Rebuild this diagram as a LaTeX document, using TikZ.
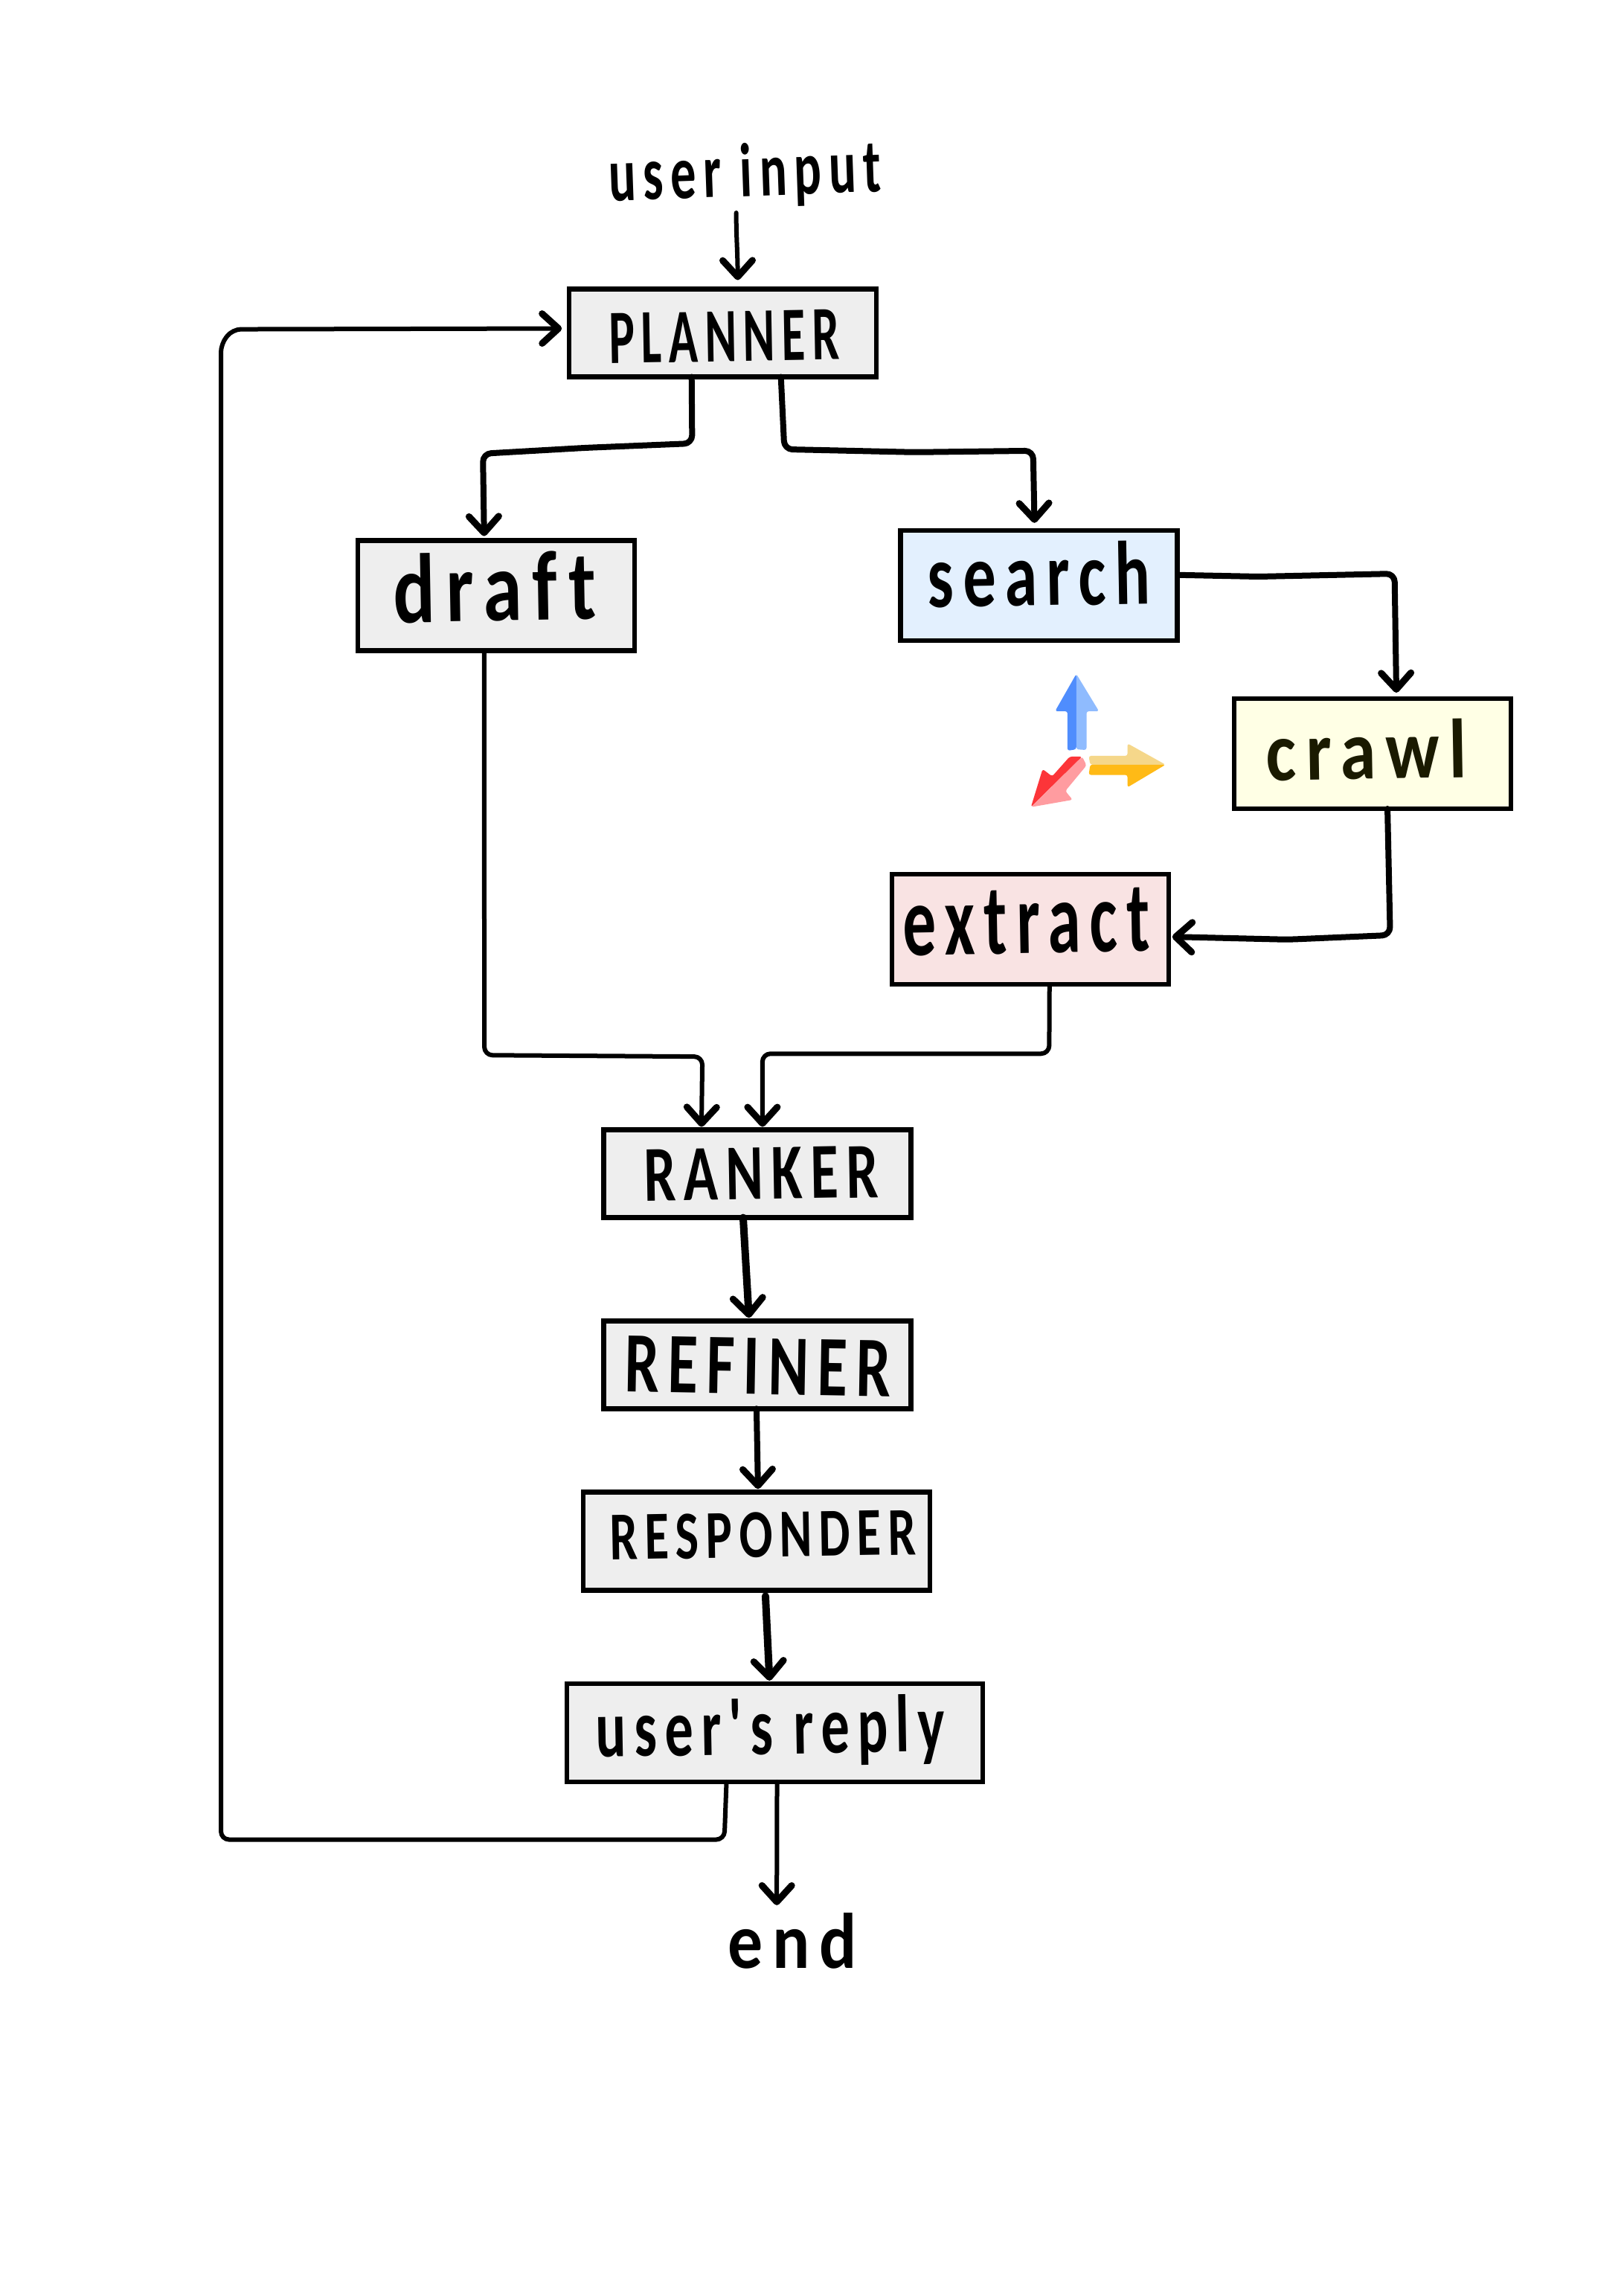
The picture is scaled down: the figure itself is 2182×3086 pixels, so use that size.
\documentclass[tikz,border=0pt]{standalone}
\usepackage{graphicx}
\usepackage{fontspec}
\usetikzlibrary{arrows.meta}
\newfontfamily\hand[LetterSpace=14,Ligatures=NoCommon]{Carlito}
\newcommand{\hw}[3]{\resizebox*{#1pt}{#2pt}{\hand\bfseries #3}}
\definecolor{gbox}{HTML}{EEEEEE}
\definecolor{bbox}{HTML}{E3F0FE}
\definecolor{ybox}{HTML}{FFFFE5}
\definecolor{pbox}{HTML}{F9E3E3}
\definecolor{bluea}{HTML}{4F8DFD}
\definecolor{blueb}{HTML}{8FBBFE}
\definecolor{yela}{HTML}{F5D78A}
\definecolor{yelb}{HTML}{FFBA16}
\definecolor{reda}{HTML}{FC3539}
\definecolor{redb}{HTML}{FF9CA0}
\definecolor{olive}{HTML}{1A1A00}
\tikzset{
  boxn/.style={draw=black,line width=6.5pt,rectangle,inner sep=0pt,outer sep=0pt},
  every label/.style={inner sep=0pt,outer sep=0pt},
  flow/.style={draw=black,line width=8pt,rounded corners=11pt,line cap=round,line join=round,
    -{Straight Barb[length=22pt,width=40pt,line width=9pt,round]},shorten >=2pt},
  thinflow/.style={flow,line width=6pt},
  thickflow/.style={flow,line width=10pt},
  txt/.style={inner sep=0pt,outer sep=0pt},
  icon/.style={rounded corners=3pt}
}
\begin{document}
\begin{tikzpicture}[x=0.9835pt,y=-0.9835pt]
\useasboundingbox[fill=white] (0pt,0pt) rectangle (2182pt,-3086pt);

% boxes
\node[boxn,fill=gbox,minimum width=413pt,minimum height=118pt,
  label={[name=plannerT,xshift=2pt,yshift=-5pt,rotate=1]center:\hw{310}{67}{PLANNER}}] (planner) at (988,455) {};
\node[boxn,fill=gbox,minimum width=372pt,minimum height=148pt,
  label={[name=draftT,xshift=-2pt,yshift=12pt,rotate=1]center:\hw{272}{94}{draft}}] (draft) at (678,814) {};
\node[boxn,fill=bbox,minimum width=372pt,minimum height=148pt,
  label={[name=searchT,yshift=15pt,rotate=1]center:\hw{299}{86}{search}}] (search) at (1420,800) {};
\node[boxn,fill=ybox,minimum width=372pt,minimum height=148pt,
  label={[name=crawlT,xshift=-8pt,yshift=5pt,rotate=1]center:\hw{270}{80}{\color{olive}crawl}}] (crawl) at (1876,1030) {};
\node[boxn,fill=pbox,minimum width=372pt,minimum height=148pt,
  label={[name=extractT,xshift=-5pt,yshift=10pt,rotate=1]center:\hw{332}{86}{extract}}] (extract) at (1408,1270) {};
\node[boxn,fill=gbox,minimum width=413pt,minimum height=118pt,
  label={[name=rankerT,xshift=5pt,rotate=1]center:\hw{315}{69}{RANKER}}] (ranker) at (1035,1604) {};
\node[boxn,fill=gbox,minimum width=413pt,minimum height=118pt,
  label={[name=refinerT,xshift=1pt,yshift=-2pt,rotate=-1]center:\hw{357}{75}{REFINER}}] (refiner) at (1035,1865) {};
\node[boxn,fill=gbox,minimum width=466pt,minimum height=132pt,
  label={[name=responderT,xshift=9pt,yshift=8pt,rotate=1]center:\hw{411}{61}{RESPONDER}}] (responder) at (1034,2106) {};
\node[boxn,fill=gbox,minimum width=559pt,minimum height=132pt,
  label={[name=replyT,xshift=-6pt,yshift=1pt,rotate=1]center:\hw{469}{94}{user's reply}}] (reply) at (1059,2368) {};

% free texts
\node[txt,rotate=2] (input) at (1018,240) {\hw{366}{88}{user input}};
\node[txt] (endn) at (1083,2652) {\hw{174}{75}{end}};

% connectors
\draw[thinflow,rounded corners=0pt] ([xshift=18pt,yshift=-6pt]planner.north |- input.south) .. controls (1006,320) and (1008,340) .. ([xshift=20pt,yshift=10pt]planner.north);
\draw[flow] ([xshift=-42pt]planner.south) -- (946,606) -- (800,612) -- (660,620) -- ([xshift=-16pt,yshift=4pt]draft.north);
\draw[flow] ([xshift=78pt]planner.south) -- (1072,614) -- (1250,618) -- (1412,616) -- ([xshift=-6pt,yshift=8pt]search.north);
\draw[flow] ([xshift=2pt,yshift=14pt]search.east) -- (1720,788) -- (1906,784) -- ([xshift=32pt,yshift=6pt]crawl.north);
\draw[flow] ([xshift=20pt]crawl.south) -- (1900,1278) -- (1760,1284) -- ([yshift=-10pt,xshift=3pt]extract.east);
\draw[thinflow] ([xshift=-16pt]draft.south) -- (662,1442) -- (960,1444) -- ([xshift=-75pt,yshift=2pt]ranker.north);
\draw[thinflow] ([xshift=26pt]extract.south) -- (1434,1440) -- (1042,1440) -- ([xshift=7pt,yshift=2pt]ranker.north);
\draw[thickflow] ([xshift=-19pt]ranker.south) -- ([xshift=-11pt,yshift=2pt]refiner.north);
\draw[flow] ([xshift=-1pt]refiner.south) -- ([xshift=2pt,yshift=2pt]responder.north);
\draw[thickflow] ([xshift=12pt,yshift=-8pt]responder.south) -- ([xshift=-7pt,yshift=2pt]reply.north);
\draw[thinflow] ([xshift=-65pt]reply.south) -- (990,2514) -- (302,2514) -- (302,470) -- (318,450) -- ([xshift=-8pt,yshift=6pt]planner.west);
\draw[thinflow] ([xshift=3pt]reply.south) -- ([xshift=-21pt,yshift=8pt]endn.north);

% axis icon
\fill[icon,bluea] (1471,921) -- (1442,972) -- (1459,972) -- (1459,1026) -- (1471,1024) -- cycle;
\fill[icon,blueb] (1471,921) -- (1502,972) -- (1485,972) -- (1485,1025) -- (1471,1024) -- cycle;
\fill[icon,yela] (1593,1045) -- (1541,1016) -- (1541,1033) -- (1488,1033) -- (1490,1045) -- cycle;
\fill[icon,yelb] (1593,1045) -- (1541,1076) -- (1541,1059) -- (1488,1059) -- (1490,1045) -- cycle;
\fill[icon,reda] (1409,1103) -- (1425,1051) -- (1438,1061) -- (1462,1034) -- (1479,1034) -- cycle;
\fill[icon,redb] (1409,1103) -- (1466,1093) -- (1456,1081) -- (1485,1046) -- (1479,1034) -- cycle;
\end{tikzpicture}
\end{document}
